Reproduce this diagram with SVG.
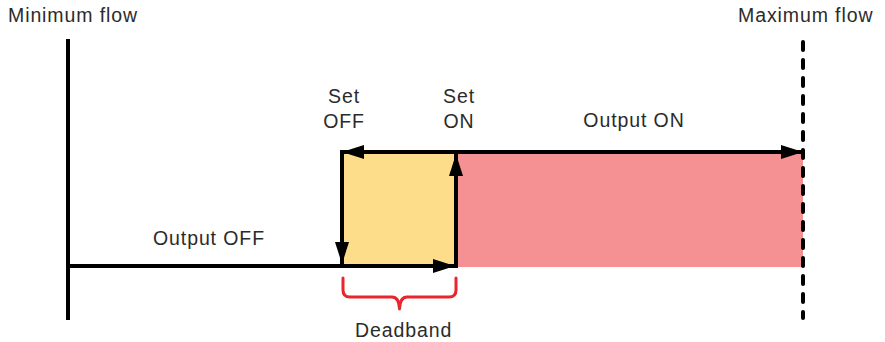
<svg xmlns="http://www.w3.org/2000/svg" width="885" height="342" viewBox="0 0 885 342">
<style>
text{font-family:"Liberation Sans",Arial,sans-serif;font-size:19.5px;fill:#2b2b2b;letter-spacing:0.9px}
.ln{stroke:#000;stroke-width:4;fill:none}
.mid{text-anchor:middle}
</style>
<defs>
<marker id="ah" viewBox="0 0 22 14" refX="22" refY="7" markerWidth="22" markerHeight="14" markerUnits="userSpaceOnUse" orient="auto-start-reverse">
<path d="M0,0 L22,7 L0,14 Z" fill="#000"/>
</marker>
</defs>
<rect width="885" height="342" fill="#fff"/>
<g id="zones">
<rect x="342" y="152" width="114" height="114" fill="#fddd8a"/>
<rect x="456" y="152" width="347" height="115" fill="#f59093"/>
</g>
<g id="min-flow">
<line class="ln" x1="68" y1="39" x2="68" y2="320"/>
<text x="8" y="22">Minimum flow</text>
</g>
<g id="max-flow">
<line x1="803" y1="42" x2="803" y2="318" stroke="#000" stroke-width="4" stroke-linecap="round" stroke-dasharray="8 10"/>
<text x="738" y="22">Maximum flow</text>
</g>
<g id="set-off">
<text class="mid" x="344" y="103">Set</text>
<text class="mid" x="344" y="128">OFF</text>
</g>
<g id="set-on">
<text class="mid" x="459" y="103">Set</text>
<text class="mid" x="459" y="128">ON</text>
</g>
<g id="output-on"><text class="mid" x="634" y="127">Output ON</text></g>
<g id="output-off"><text x="153" y="245">Output OFF</text></g>
<g id="deadband">
<path d="M343,278 V290 Q343,297 350,297 H392 Q399,297 399.5,309 Q400,297 407,297 H449 Q456,297 456,290 V278" fill="none" stroke="#e8262b" stroke-width="3" stroke-linecap="round" stroke-linejoin="round"/>
<text x="355" y="337">Deadband</text>
</g>
<g id="connectors">
<line class="ln" x1="68" y1="266" x2="455" y2="266" marker-end="url(#ah)"/>
<line class="ln" x1="456" y1="268" x2="456" y2="154" marker-end="url(#ah)"/>
<line class="ln" x1="342" y1="152" x2="803" y2="152" marker-start="url(#ah)" marker-end="url(#ah)"/>
<line class="ln" x1="342" y1="150" x2="342" y2="264" marker-end="url(#ah)"/>
</g>
</svg>
